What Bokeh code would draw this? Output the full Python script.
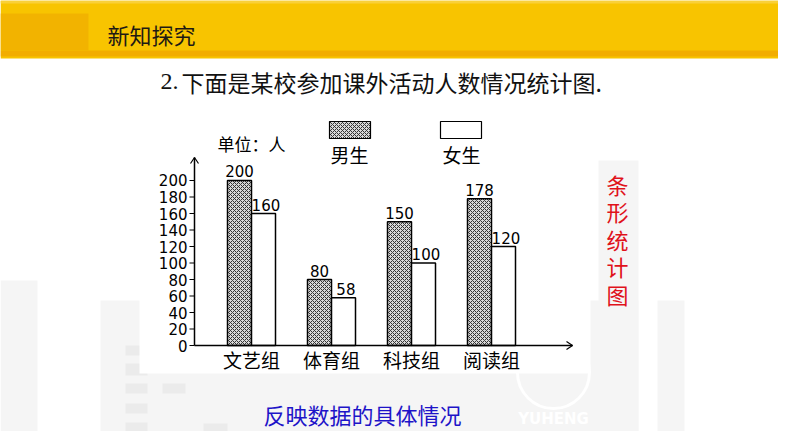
from bokeh.plotting import figure
from bokeh.models import Range1d, ColumnDataSource
from bokeh.transform import dodge
from bokeh.core.properties import value
from bokeh.embed import file_html
from bokeh.resources import INLINE

# ---- data ----
categories = ["文艺组", "体育组", "科技组", "阅读组"]
boys = [200, 80, 150, 178]
girls = [160, 58, 100, 120]
y_ticks = [0, 20, 40, 60, 80, 100, 120, 140, 160, 180, 200]
series_names = ["男生", "女生"]
unit_label = "单位：人"
title_num = "2."
title_text = "下面是某校参加课外活动人数情况统计图."
header_text = "新知探究"
side_note = "条形统计图"
footer_text = "反映数据的具体情况"

CJK = value("Noto Sans CJK SC")
NUM = value("DejaVu Sans")

W, H = 778, 431
p = figure(width=W, height=H, output_backend="svg", toolbar_location=None,
           x_range=Range1d(-3.1375, 6.5875), y_range=Range1d(-104.24, 418.18),
           x_axis_location=None, y_axis_location=None, min_border=0,
           background_fill_color="white", border_fill_color="white")
p.grid.visible = False
p.outline_line_color = None
p.extra_x_ranges = {"px": Range1d(0, 778)}
p.extra_y_ranges = {"py": Range1d(431, 0)}
PX = dict(x_range_name="px", y_range_name="py")

# ---- slide background ----
p.quad(left=[0, 100, 598, 657], right=[37, 638, 638, 684],
       top=[447, 447, 447, 447], bottom=[280, 300, 160, 300],
       fill_color="#f5f5f5", line_color=None, **PX)
p.quad(left=[125, 125, 125, 162, 125, 125, 203],
       right=[147, 147, 147, 185, 147, 147, 227],
       top=[345, 363, 383, 383, 403, 422, 423],
       bottom=[355, 375, 393, 393, 413, 433, 435],
       fill_color="#ebebeb", line_color=None, **PX)
# watermark logo
p.circle(x=[553], y=[372], radius=36, fill_color=None, line_color="white",
         line_width=3, **PX)
p.text(x=[553], y=[418], text=["YUHENG"], text_font=value("DejaVu Sans"),
       text_font_style="bold", text_font_size="15px", text_color="white",
       text_align="center", text_baseline="middle", **PX)
# white chart picture
p.quad(left=[139], right=[590], top=[60], bottom=[373],
       fill_color="white", line_color=None, **PX)

# ---- header bar ----
p.quad(left=[0], right=[794], top=[0], bottom=[58], fill_color="#F8C400",
       line_color=None, **PX)
p.quad(left=[0], right=[794], top=[0], bottom=[3], fill_color="#F9D038",
       line_color=None, **PX)
p.quad(left=[0], right=[794], top=[50], bottom=[56], fill_color="#F2AD00",
       line_color=None, **PX)
p.quad(left=[0], right=[88], top=[13], bottom=[50], fill_color="#F2B300",
       line_color=None, **PX)
p.text(x=[107], y=[33], text=[header_text], text_font=CJK,
       text_font_size="22px", text_color="#1e1a14", text_align="left",
       text_baseline="middle", **PX)

# ---- title ----
p.text(x=[160], y=[81], text=[title_num], text_font=value("Liberation Serif"),
       text_font_size="24px", text_color="#111111", text_align="left",
       text_baseline="middle", **PX)
p.text(x=[181], y=[81], text=[title_text], text_font=CJK,
       text_font_size="23px", text_color="#111111", text_align="left",
       text_baseline="middle", **PX)

# ---- chart ----
src = ColumnDataSource(dict(
    idx=list(range(len(categories))), cat=categories,
    boys=boys, girls=girls,
    boys_txt=[str(v) for v in boys], girls_txt=[str(v) for v in girls]))

p.vbar(x=dodge("idx", -0.15, range=p.x_range), top="boys", bottom=0, width=0.3,
       source=src, fill_color="#d8d8d8", hatch_pattern="diagonal_cross",
       hatch_scale=4, hatch_weight=1, hatch_color="#333333",
       line_color="black", line_width=1.5)
p.vbar(x=dodge("idx", 0.15, range=p.x_range), top="girls", bottom=0, width=0.3,
       source=src, fill_color="white", line_color="black", line_width=1.5)

p.text(x=dodge("idx", -0.15, range=p.x_range), y="boys", text="boys_txt",
       source=src, y_offset=-3, text_font=NUM, text_font_size="15px",
       text_color="black", text_align="center", text_baseline="bottom")
p.text(x=dodge("idx", 0.18, range=p.x_range), y="girls", text="girls_txt",
       source=src, y_offset=-3, text_font=NUM, text_font_size="15px",
       text_color="black", text_align="center", text_baseline="bottom")

p.text(x="idx", y=0, text="cat", source=src, y_offset=14, text_font=CJK,
       text_font_size="19px", text_color="black", text_align="center",
       text_baseline="middle")

# axes
p.segment(x0=[194], x1=[194], y0=[0], y1=[228], line_color="black",
          line_width=1.5, x_range_name="px")
p.segment(x0=[194], x1=[572], y0=[0], y1=[0], line_color="black",
          line_width=1.5, x_range_name="px")
p.multi_line(xs=[[190, 194, 198], [566, 572, 566]],
             ys=[[163, 157, 163], [341, 345, 349]],
             line_color="black", line_width=1.2, **PX)
p.segment(x0=[189] * len(y_ticks), x1=[194] * len(y_ticks), y0=y_ticks,
          y1=y_ticks, line_color="black", line_width=1.2, x_range_name="px")
p.text(x=[187] * len(y_ticks), y=y_ticks, text=[str(t) for t in y_ticks],
       text_font=NUM, text_font_size="15px", text_color="black",
       text_align="right", text_baseline="middle", x_range_name="px")

# legend
p.quad(left=[329], right=[370], top=[121], bottom=[138], fill_color="#d8d8d8",
       hatch_pattern="diagonal_cross", hatch_scale=4, hatch_weight=1,
       hatch_color="#333333", line_color="black", line_width=1.2, **PX)
p.quad(left=[440], right=[481], top=[121], bottom=[138], fill_color="white",
       line_color="black", line_width=1.2, **PX)
p.text(x=[349, 461], y=[154, 154], text=series_names, text_font=CJK,
       text_font_size="19px", text_color="black", text_align="center",
       text_baseline="middle", **PX)
p.text(x=[217], y=[143], text=[unit_label], text_font=CJK,
       text_font_size="17px", text_color="black", text_align="left",
       text_baseline="middle", **PX)

# ---- side note and footer ----
chars = list(side_note)
p.text(x=[617] * len(chars), y=[183 + 27.5 * i for i in range(len(chars))],
       text=chars, text_font=CJK, text_font_size="22px", text_color="#E0121B",
       text_align="center", text_baseline="middle", **PX)
p.text(x=[263], y=[413], text=[footer_text], text_font=CJK,
       text_font_size="22px", text_color="#1E14C8", text_align="left",
       text_baseline="middle", **PX)

open("out.html", "w").write(file_html(p, INLINE))
